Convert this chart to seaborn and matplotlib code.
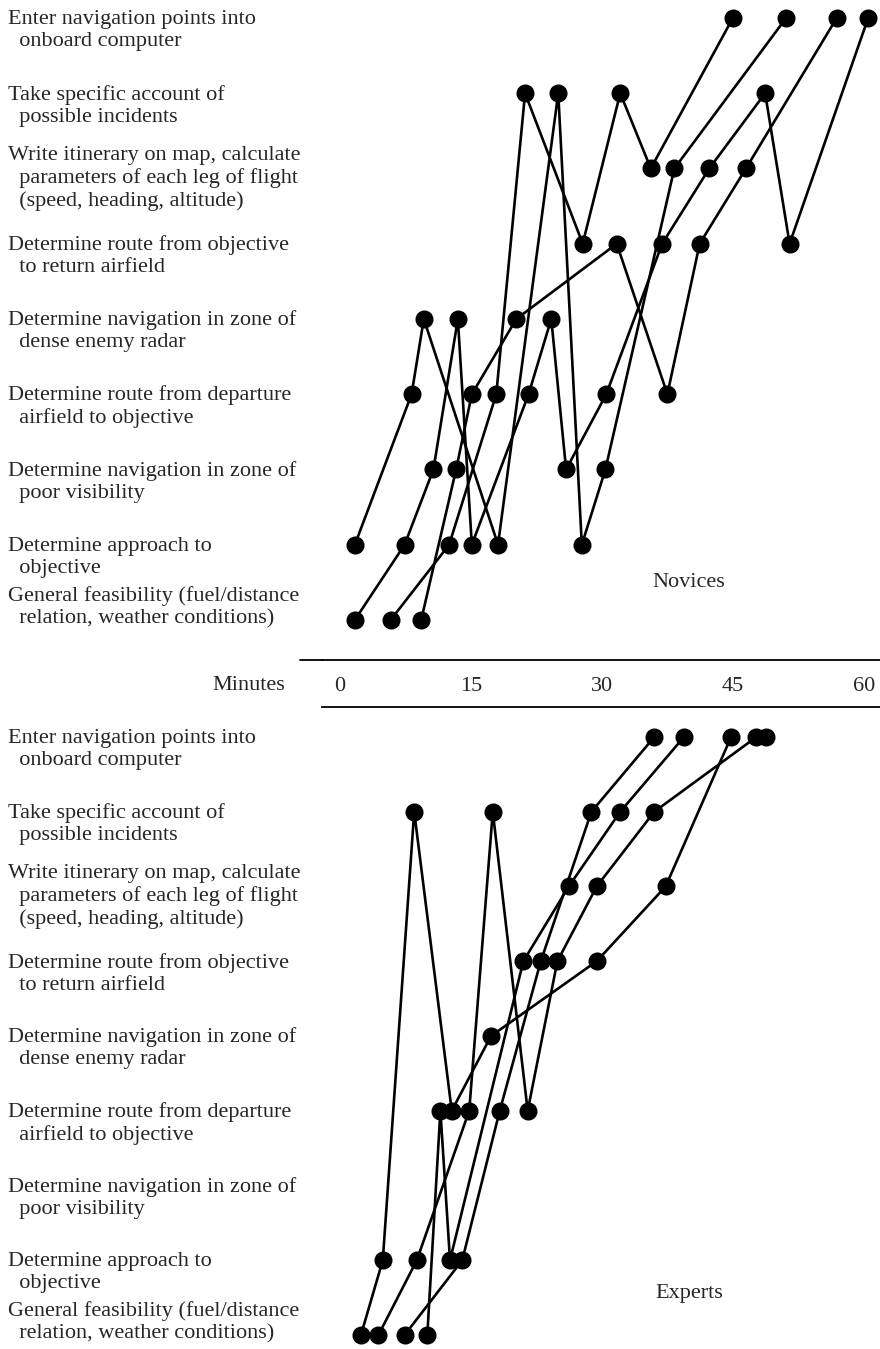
import numpy as np
import pandas as pd
import matplotlib
matplotlib.use('Agg')
import matplotlib.pyplot as plt
from matplotlib.transforms import blended_transform_factory, offset_copy
from matplotlib.lines import Line2D
import seaborn as sns

sns.set_style('white')
plt.rcParams['font.family'] = ['Liberation Serif', 'DejaVu Serif']

fs = 16

# task rows, bottom (0) to top (8)
tasks = ['General feasibility (fuel/distance\n  relation, weather conditions)',
         'Determine approach to\n  objective',
         'Determine navigation in zone of\n  poor visibility',
         'Determine route from departure\n  airfield to objective',
         'Determine navigation in zone of\n  dense enemy radar',
         'Determine route from objective\n  to return airfield',
         'Write itinerary on map, calculate\n  parameters of each leg of flight\n  (speed, heading, altitude)',
         'Take specific account of\n  possible incidents',
         'Enter navigation points into\n  onboard computer']

xticks = [0, 15, 30, 45, 60]

# novices: minutes at which each task was taken up, one list per subject
novice_minutes = [[5.8, 12.5, 17.9, 21.2, 27.8, 32.1, 35.6, 45.0],
                  [1.7, 7.4, 10.7, 13.5, 15.1, 21.6, 24.2, 25.9, 30.5, 36.9, 42.3, 48.7, 51.5, 60.5],
                  [9.3, 13.3, 15.1, 20.2, 31.7, 37.5, 41.2, 46.5, 56.9],
                  [1.7, 8.2, 9.6, 18.1, 25.0, 27.7, 30.4, 38.3, 51.1]]
novice_tasks = [[0, 1, 3, 7, 5, 7, 6, 8],
                [0, 1, 2, 4, 1, 3, 4, 2, 3, 5, 6, 7, 5, 8],
                [0, 2, 3, 4, 5, 3, 5, 6, 8],
                [1, 3, 4, 1, 7, 1, 2, 6, 8]]

# experts
expert_minutes = [[2.4, 4.9, 8.5, 12.8, 17.3, 29.4, 37.3, 44.8],
                  [4.4, 8.8, 14.8, 17.5, 21.5, 24.9, 29.4, 36.0, 47.7, 48.8],
                  [7.4, 14.0, 18.3, 23.0, 28.8, 36.0],
                  [10.0, 11.5, 12.6, 21.0, 26.2, 32.1, 39.4]]
expert_tasks = [[0, 1, 7, 3, 4, 5, 6, 8],
                [0, 1, 3, 7, 3, 5, 6, 7, 8, 8],
                [0, 1, 3, 5, 7, 8],
                [0, 3, 1, 5, 6, 7, 8]]


def to_frame(minutes, task_rows):
    rows = []
    for s, (mm, tt) in enumerate(zip(minutes, task_rows)):
        for k, (m, t) in enumerate(zip(mm, tt)):
            rows.append({'subject': s, 'step': k, 'minutes': m, 'task': t})
    return pd.DataFrame(rows)


W, H = 880, 1349
fig = plt.figure(figsize=(W / 100, H / 100), dpi=100)

x_left, x_right = 322, 880
px_per_min = 8.73
x0 = 340
xlim = ((x_left - x0) / px_per_min, (x_right - x0) / px_per_min)

ax_nov = fig.add_axes([x_left / W, 1 - 660 / H, (x_right - x_left) / W, 660 / H])
ax_exp = fig.add_axes([x_left / W, 0, (x_right - x_left) / W, 1 - 707 / H])

panels = [(ax_nov, novice_minutes, novice_tasks, (-0.532, 8.239), 'Novices', 0.5),
          (ax_exp, expert_minutes, expert_tasks, (-0.187, 8.401), 'Experts', 0.56)]

half_line = 12.5  # px

for ax, mins, tks, ylim, name, name_y in panels:
    df = to_frame(mins, tks)
    sns.lineplot(data=df, x='minutes', y='task', units='subject', estimator=None,
                 sort=False, color='black', lw=1.9, marker='o', markersize=13,
                 markeredgewidth=0, clip_on=False, legend=False, ax=ax)
    ax.set_xlim(xlim)
    ax.set_ylim(ylim)
    ax.set_xlabel('')
    ax.set_ylabel('')
    ax.set_yticks([])
    for sp in ax.spines.values():
        sp.set_visible(False)
    ax.text(40, name_y, name, ha='center', va='center', fontsize=fs)

    trans = blended_transform_factory(fig.transFigure, ax.transData)
    for r, lab in enumerate(tasks):
        nl = lab.count('\n') + 1
        if nl % 2:
            shift = -10
        elif r == 0:
            shift = half_line
        else:
            shift = -half_line
        tr = offset_copy(trans, fig=fig, x=0, y=shift, units='dots')
        ax.text(8 / W, r, lab, transform=tr, ha='left', va='center',
                fontsize=fs, linespacing=1.22)

# time scale between the two panels
ax_nov.spines['bottom'].set_visible(True)
ax_nov.spines['bottom'].set_color('black')
ax_nov.spines['bottom'].set_linewidth(1.3)
ax_nov.set_xticks(xticks)
ax_nov.set_xticklabels([str(t) for t in xticks], fontsize=fs)
ax_nov.tick_params(axis='x', length=0, pad=12)
ax_exp.set_xticks([])
ax_exp.spines['top'].set_visible(True)
ax_exp.spines['top'].set_color('black')
ax_exp.spines['top'].set_linewidth(1.3)

fig.add_artist(Line2D([300 / W, x_left / W], [1 - 660 / H, 1 - 660 / H],
                      transform=fig.transFigure, color='black', lw=1.3))
fig.text(285 / W, 1 - 685 / H, 'Minutes', ha='right', va='center', fontsize=fs)

fig.savefig('out.png', dpi=100)
